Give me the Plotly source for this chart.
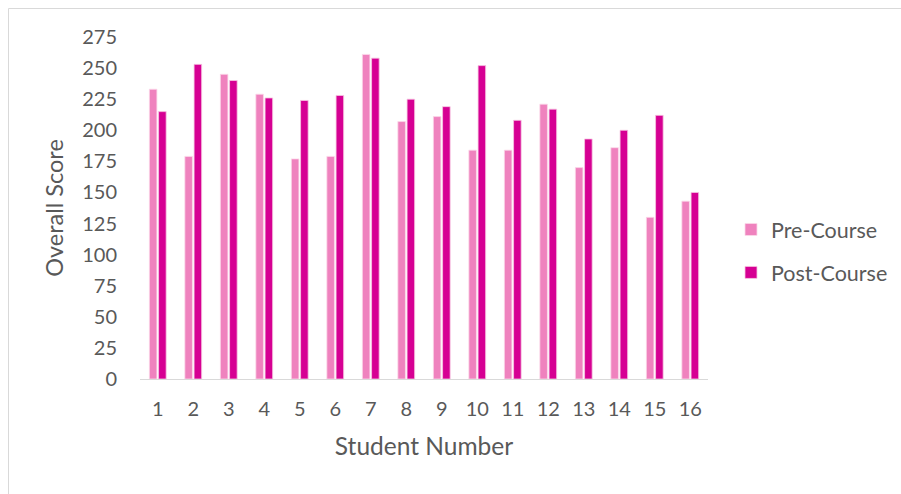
import plotly.graph_objects as go

# Student scores before and after the course
students = [str(i) for i in range(1, 17)]
pre_course = [233, 179, 245, 229, 177, 179, 261, 207, 211, 184, 184, 221, 170, 186, 130, 143]
post_course = [215, 253, 240, 226, 224, 228, 258, 225, 219, 252, 208, 217, 193, 200, 212, 150]
y_ticks = list(range(0, 276, 25))

PRE_COLOR = "#EF82BE"
POST_COLOR = "#D60093"
TEXT = "#595959"
FONT = "Lato"
W, H = 901, 494

fig = go.Figure()
fig.add_trace(go.Bar(
    x=students, y=pre_course, name="Pre-Course", legendgroup="pre",
    marker=dict(color=PRE_COLOR, line=dict(color="#FBD9EA", width=0.8)),
))
fig.add_trace(go.Bar(
    x=students, y=post_course, name="Post-Course", legendgroup="post",
    marker=dict(color=POST_COLOR, line=dict(color="#F6C6E1", width=0.8)),
))

# plot area: x 140..708, y 37..379.3 (pixels)
PW, PH = 568, 342.3

fig.update_layout(
    width=W, height=H,
    margin=dict(l=140, r=193, t=37, b=115, autoexpand=False),
    paper_bgcolor="white", plot_bgcolor="white",
    barmode="group", bargap=0.48, bargroupgap=0.18,
    font=dict(family=FONT, size=20, color=TEXT),
    showlegend=True,
    legend=dict(
        xref="container", yref="container",
        x=731 / W, y=(H - 251) / H, xanchor="left", yanchor="middle",
        font=dict(family=FONT, size=21.5, color=TEXT),
        tracegroupgap=12, itemwidth=30,
    ),
    shapes=[dict(
        type="rect", xref="paper", yref="paper",
        x0=(8.5 - 140) / PW, x1=(960 - 140) / PW,
        y0=(379.3 - 560) / PH, y1=(379.3 - 8.5) / PH,
        line=dict(color="#D9D9D9", width=1), fillcolor="rgba(0,0,0,0)", layer="below",
    )],
)

fig.update_xaxes(
    type="category", showgrid=False, zeroline=False,
    showline=True, linecolor="#D9D9D9", linewidth=1,
    ticks="", ticklabelstandoff=12,
    tickfont=dict(family=FONT, size=20, color=TEXT),
    title=dict(text="Student Number", font=dict(family=FONT, size=24.5, color=TEXT), standoff=18),
)
fig.update_yaxes(
    range=[0, 275], tickvals=y_ticks, showgrid=False, zeroline=False,
    showline=False, ticks="", ticklabelstandoff=22,
    tickfont=dict(family=FONT, size=20, color=TEXT),
    title=dict(text="Overall Score", font=dict(family=FONT, size=23.5, color=TEXT), standoff=11),
)

fig.write_html("out.html")
